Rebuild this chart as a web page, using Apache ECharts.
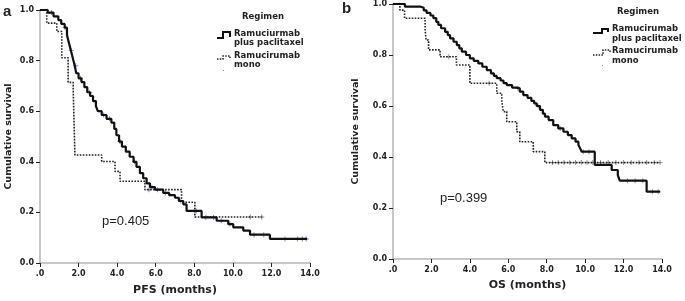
<!DOCTYPE html>
<html>
<head>
<meta charset="utf-8">
<script src="https://cdn.jsdelivr.net/npm/echarts@6/dist/echarts.min.js"></script>
<style>
	html, body { margin: 0; padding: 0; background: #fff; }
	#chart { width: 685px; height: 301px; }
</style>
</head>
<body>
<div id="chart"></div>
<script>
// month ticks
var monthTicks = [0, 2, 4, 6, 8, 10, 12, 14];

// PFS, ramucirumab plus paclitaxel [month, survival]
var pfsCombo = [[0, 1.0], [0.4, 0.99], [0.7, 0.975], [0.95, 0.96], [1.1, 0.945], [1.28, 0.93], [1.4, 0.90], [1.5, 0.87],
	[1.6, 0.84], [1.7, 0.81], [1.8, 0.78], [1.88, 0.75], [2.0, 0.73], [2.15, 0.715], [2.3, 0.695], [2.45, 0.675],
	[2.6, 0.66], [2.75, 0.64], [2.9, 0.62], [3.0, 0.60], [3.2, 0.585], [3.45, 0.57], [3.7, 0.555], [3.85, 0.53],
	[3.96, 0.505], [4.1, 0.48], [4.25, 0.46], [4.45, 0.44], [4.65, 0.42], [4.85, 0.40], [5.0, 0.38], [5.18, 0.355],
	[5.35, 0.335], [5.53, 0.315], [5.7, 0.30], [5.96, 0.29], [6.39, 0.277], [6.7, 0.268], [7.0, 0.258], [7.2, 0.245],
	[7.43, 0.232], [7.6, 0.206], [8.38, 0.18], [9.16, 0.167], [9.76, 0.154], [10.02, 0.141], [10.54, 0.128],
	[10.89, 0.112], [11.92, 0.095], [13.85, 0.095]];
var pfsComboCens = [[0.6, 0.99], [1.3, 0.93], [1.62, 0.84], [1.85, 0.78], [2.1, 0.73], [2.55, 0.675], [3.3, 0.585],
	[3.6, 0.57], [4.15, 0.48], [4.9, 0.40], [5.8, 0.30], [6.1, 0.29], [6.5, 0.277], [7.3, 0.245], [8.1, 0.206],
	[8.6, 0.18], [9.0, 0.18], [9.4, 0.167], [9.85, 0.154], [11.1, 0.112], [11.6, 0.112], [12.7, 0.095],
	[13.35, 0.095], [13.6, 0.095], [13.8, 0.095]];

// PFS, ramucirumab mono
var pfsMono = [[0, 1.0], [0.35, 0.948], [0.87, 0.915], [1.13, 0.811], [1.46, 0.714], [1.72, 0.69], [1.81, 0.427],
	[3.2, 0.401], [3.89, 0.362], [4.15, 0.323], [5.44, 0.29], [7.34, 0.24], [8.03, 0.182], [11.5, 0.182]];
var pfsMonoCens = [[5.65, 0.29], [10.9, 0.182], [11.5, 0.182]];

// OS, ramucirumab plus paclitaxel
var osCombo = [[0, 1.0], [0.62, 0.99], [1.4, 0.985], [1.6, 0.975], [1.75, 0.965], [1.95, 0.955], [2.1, 0.945],
	[2.25, 0.93], [2.36, 0.918], [2.5, 0.905], [2.71, 0.891], [2.85, 0.878], [2.97, 0.865], [3.15, 0.852],
	[3.32, 0.839], [3.45, 0.826], [3.58, 0.813], [3.8, 0.80], [4.0, 0.787], [4.2, 0.777], [4.44, 0.767],
	[4.65, 0.754], [4.88, 0.741], [5.1, 0.728], [5.25, 0.718], [5.4, 0.709], [5.6, 0.70], [5.75, 0.69],
	[5.92, 0.682], [6.2, 0.672], [6.44, 0.669], [6.6, 0.656], [6.78, 0.643], [7.0, 0.632], [7.2, 0.62],
	[7.35, 0.61], [7.48, 0.60], [7.65, 0.585], [7.8, 0.57], [7.91, 0.558], [8.1, 0.545], [8.34, 0.525],
	[8.6, 0.512], [8.87, 0.499], [9.1, 0.486], [9.3, 0.473], [9.5, 0.46], [9.65, 0.447], [9.75, 0.432],
	[9.82, 0.421], [10.5, 0.369], [11.38, 0.349], [11.7, 0.329], [11.8, 0.307], [13.2, 0.264], [13.9, 0.264]];
var osComboCens = [[6.5, 0.669], [7.55, 0.60], [8.7, 0.512], [9.9, 0.421], [10.2, 0.421], [12.2, 0.307],
	[12.6, 0.307], [13.0, 0.307], [13.5, 0.264], [13.8, 0.264]];

// OS, ramucirumab mono
var osMono = [[0, 1.0], [0.36, 0.976], [0.6, 0.944], [1.67, 0.90], [1.72, 0.859], [1.85, 0.82], [2.45, 0.793],
	[3.3, 0.761], [4.0, 0.689], [5.4, 0.65], [5.66, 0.62], [5.74, 0.578], [5.92, 0.538], [6.44, 0.499],
	[6.6, 0.46], [7.3, 0.421], [7.9, 0.378], [13.9, 0.378]];
var osMonoCens = [[2.9, 0.793], [5.0, 0.689], [8.3, 0.378], [8.6, 0.378], [8.9, 0.378], [9.2, 0.378],
	[9.5, 0.378], [9.8, 0.378], [10.1, 0.378], [10.4, 0.378], [10.8, 0.378], [11.2, 0.378], [11.6, 0.378],
	[12.0, 0.378], [12.4, 0.378], [12.8, 0.378], [13.2, 0.378], [13.6, 0.378], [13.9, 0.378]];

var wideFont = '"DejaVu Sans", Verdana, sans-serif';
var plainFont = '"Liberation Sans", Arial, sans-serif';
var plus = 'path://M1.6,0h0.8v1.6h1.6v0.8h-1.6v1.6h-0.8v-1.6h-1.6v-0.8h1.6z';

function makeX(idx, name, gap) {
	return {
		type: 'value',
		gridIndex: idx,
		min: 0,
		max: 14,
		interval: 2,
		name: name,
		nameLocation: 'middle',
		nameGap: gap,
		nameTextStyle: { fontFamily: wideFont, fontWeight: 'bold', fontSize: 11, color: '#222' },
		splitLine: { show: false },
		axisLine: { lineStyle: { color: '#b4b4b4', width: 1.5 } },
		axisTick: { length: 4, lineStyle: { color: '#222' } },
		axisLabel: {
			margin: 7,
			fontFamily: wideFont,
			fontWeight: 'bold',
			fontSize: 8,
			color: '#222',
			formatter: function(v) {
				return v === 0 ? '.0' : v.toFixed(1);
			}
		}
	};
}

function makeY(idx, gap) {
	return {
		type: 'value',
		gridIndex: idx,
		min: 0,
		max: 1,
		interval: 0.2,
		name: 'Cumulative survival',
		nameLocation: 'middle',
		nameGap: gap,
		nameTextStyle: { fontFamily: wideFont, fontWeight: 'bold', fontSize: 9.5, color: '#222' },
		splitLine: { show: false },
		axisLine: { show: true, lineStyle: { color: '#b4b4b4', width: 1.5 } },
		axisTick: { show: true, length: 4, lineStyle: { color: '#222' } },
		axisLabel: {
			margin: 6,
			fontFamily: wideFont,
			fontWeight: 'bold',
			fontSize: 8,
			color: '#222',
			formatter: function(v) {
				return v.toFixed(1);
			}
		}
	};
}

function stepLine(idx, data, dotted) {
	return {
		type: 'line',
		xAxisIndex: idx,
		yAxisIndex: idx,
		step: 'end',
		showSymbol: false,
		silent: true,
		data: data,
		lineStyle: dotted ? { color: '#222', width: 1.6, type: [1.6, 1.4] } : { color: '#111', width: 2.2 }
	};
}

function censor(idx, data, color) {
	return {
		type: 'scatter',
		xAxisIndex: idx,
		yAxisIndex: idx,
		symbol: plus,
		symbolSize: 5,
		silent: true,
		data: data,
		itemStyle: { color: color }
	};
}

function txt(x, y, s, size, weight, family) {
	return {
		type: 'text',
		left: x,
		top: y,
		style: { text: s, font: weight + ' ' + size + 'px ' + (family || wideFont), fill: '#222' }
	};
}

function icon(pts, dotted) {
	return {
		type: 'polyline',
		shape: { points: pts },
		style: dotted ? { stroke: '#222', lineWidth: 1.5, lineDash: [1.5, 1.3], fill: null } :
			{ stroke: '#111', lineWidth: 2, fill: null }
	};
}

var chart = echarts.init(document.getElementById('chart'));

chart.setOption({
	animation: false,
	grid: [
		{ left: 40, top: 10, width: 270, height: 256 },
		{ left: 393, top: 4, width: 269, height: 255 }
	],
	xAxis: [makeX(0, 'PFS (months)', 22), makeX(1, 'OS (months)', 21)],
	yAxis: [makeY(0, 26), makeY(1, 32)],
	series: [
		stepLine(0, pfsMono, true),
		stepLine(0, pfsCombo, false),
		censor(0, pfsComboCens, '#4a6fc9'),
		censor(0, pfsMonoCens, '#666'),
		stepLine(1, osMono, true),
		stepLine(1, osCombo, false),
		censor(1, osComboCens, '#777'),
		censor(1, osMonoCens, '#777')
	],
	graphic: [
		txt(3, 4, 'a', 15, 'bold', plainFont),
		txt(342, 1, 'b', 15, 'bold', plainFont),
		txt(102, 215, 'p=0.405', 13, 'normal', plainFont),
		txt(440, 192, 'p=0.399', 13, 'normal', plainFont),
		// legend a
		txt(242, 12, 'Regimen', 8.5, 'bold'),
		icon([[217, 38], [223, 38], [223, 32], [230, 32], [230, 37]], false),
		txt(234, 29, 'Ramuciurmab', 8.5, 'bold'),
		txt(234, 38, 'plus paclitaxel', 8.5, 'bold'),
		icon([[217, 59], [223, 59], [223, 56], [230, 56], [230, 58]], true),
		txt(234, 51, 'Ramucirumab', 8.5, 'bold'),
		txt(234, 60, 'mono', 8.5, 'bold'),
		{ type: 'rect', shape: { x: 223, y: 70, width: 1, height: 1 }, style: { fill: '#888' } },
		// legend b
		txt(617, 7, 'Regimen', 8.5, 'bold'),
		icon([[593, 33], [602, 33], [602, 29], [608, 29], [608, 32]], false),
		txt(612, 24, 'Ramucirumab', 8.5, 'bold'),
		txt(612, 34, 'plus paclitaxel', 8.5, 'bold'),
		icon([[593, 55], [603, 55], [603, 50], [610, 50], [610, 53]], true),
		txt(612, 46, 'Ramucirumab', 8.5, 'bold'),
		txt(612, 56, 'mono', 8.5, 'bold'),
		{ type: 'rect', shape: { x: 602, y: 65, width: 1, height: 1 }, style: { fill: '#888' } }
	]
});
</script>
</body>
</html>
